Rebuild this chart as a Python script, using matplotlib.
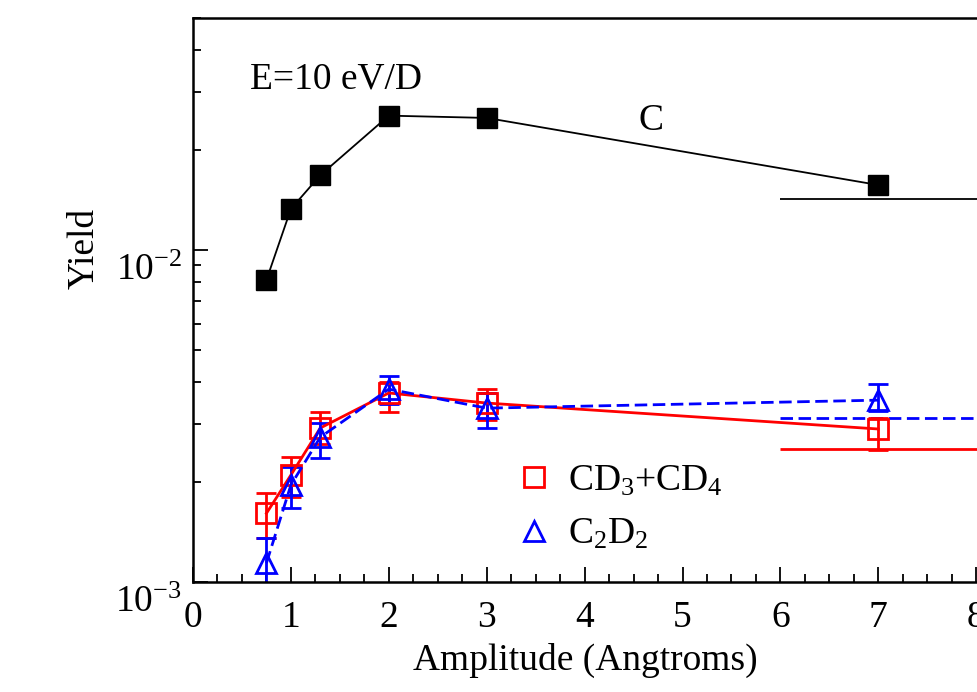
import matplotlib
matplotlib.use("Agg")
import matplotlib.pyplot as plt
import matplotlib.transforms as mtransforms
from matplotlib.lines import Line2D
from matplotlib.ticker import MultipleLocator, LogLocator, NullFormatter, FixedLocator, FixedFormatter

plt.rcParams['font.family'] = ['Liberation Serif', 'DejaVu Serif']
plt.rcParams['mathtext.fontset'] = 'custom'
plt.rcParams['mathtext.rm'] = 'Liberation Serif'
plt.rcParams['mathtext.it'] = 'Liberation Serif:italic'

# amplitude values (Angstroms)
amp = [0.75, 1.0, 1.3, 2.0, 3.0, 7.0]

# C yield (black squares)
c_yield = [8.12e-3, 1.33e-2, 1.68e-2, 2.54e-2, 2.50e-2, 1.57e-2]
c_ref = 1.425e-2

# CD3+CD4 yield (red open squares) with error bar limits
cd_yield = [1.61e-3, 2.10e-3, 2.91e-3, 3.71e-3, 3.46e-3, 2.89e-3]
cd_hi = [1.85e-3, 2.38e-3, 3.25e-3, 4.00e-3, 3.81e-3, 3.12e-3]
cd_lo = [1.36e-3, 1.80e-3, 2.60e-3, 3.25e-3, 3.08e-3, 2.50e-3]
cd_ref = 2.52e-3

# C2D2 yield (blue open triangles) with error bar limits
c2_yield = [1.14e-3, 1.96e-3, 2.73e-3, 3.81e-3, 3.34e-3, 3.53e-3]
c2_hi = [1.36e-3, 2.22e-3, 3.01e-3, 4.17e-3, 3.71e-3, 3.95e-3]
c2_lo = [0.90e-3, 1.67e-3, 2.36e-3, 3.43e-3, 2.91e-3, 3.27e-3]
c2_ref = 3.12e-3

FS = 27
W, H = 977, 692
fig = plt.figure(figsize=(W / 100, H / 100), dpi=100)
xmax = 10.0
px_per_unit = 97.9
ax = fig.add_axes([193 / W, 110 / H, xmax * px_per_unit / W, (582 - 18) / H])
ax.set_xlim(0, xmax)
ax.set_yscale('log')
ax.set_ylim(1e-3, 5e-2)

dash = (0, (4.5, 2))

# reference lines from x=6 outwards
ax.hlines(c_ref, 6, xmax, color='black', lw=1.3)
ax.hlines(cd_ref, 6, xmax, color='red', lw=2)
ax.hlines(c2_ref, 6, xmax, color='blue', lw=2, linestyles=dash)

ax.plot(amp, c_yield, color='black', lw=1.3, marker='s', ms=14, mfc='black', mec='black', clip_on=False)

cd_err = [[y - l for y, l in zip(cd_yield, cd_lo)], [h - y for y, h in zip(cd_yield, cd_hi)]]
ax.errorbar(amp, cd_yield, yerr=cd_err, color='red', lw=2, marker='s', ms=14, mfc='none', mec='red', mew=2,
            elinewidth=2, capsize=7, capthick=2)

c2_err = [[y - l for y, l in zip(c2_yield, c2_lo)], [h - y for y, h in zip(c2_yield, c2_hi)]]
ax.errorbar(amp, c2_yield, yerr=c2_err, color='blue', lw=2, ls=dash, marker='^', ms=15,
            mfc='none', mec='blue', mew=2, elinewidth=2, capsize=7, capthick=2)

# axes look
ax.spines['right'].set_visible(False)
for side in ['left', 'bottom', 'top']:
    ax.spines[side].set_linewidth(1.8)

ax.xaxis.set_major_locator(MultipleLocator(1))
ax.xaxis.set_minor_locator(MultipleLocator(0.25))
ax.yaxis.set_major_locator(FixedLocator([1e-3, 1e-2]))
ax.yaxis.set_major_formatter(FixedFormatter([r'$10^{-3}$', r'$10^{-2}$']))
ax.yaxis.set_minor_locator(LogLocator(base=10, subs=range(2, 10)))
ax.yaxis.set_minor_formatter(NullFormatter())
ax.tick_params(which='both', direction='in', top=False, right=False, labelsize=FS)
ax.tick_params(which='major', length=11, width=1.3)
ax.tick_params(which='minor', length=6, width=1.3)
ax.tick_params(axis='x', which='major', pad=13)
ax.tick_params(axis='y', which='major', pad=8)

offset = mtransforms.ScaledTranslation(0, -17 / 100, fig.dpi_scale_trans)
for lab in ax.get_yticklabels():
    lab.set_transform(lab.get_transform() + offset)

ax.set_xlabel('Amplitude (Angtroms)', fontsize=FS)
ax.xaxis.set_label_coords((585 - 193) / (xmax * px_per_unit), -0.108)
ax.set_ylabel('Yield', fontsize=FS)
ax.yaxis.set_label_coords(-(193 - 102) / (xmax * px_per_unit), (582 - 248) / (582 - 18))

ax.text(0.58, 3.28e-2, 'E=10 eV/D', fontsize=FS, ha='left', va='center')
ax.text(4.68, 2.45e-2, 'C', fontsize=FS, ha='center', va='center')

handles = [Line2D([], [], ls='none', marker='s', ms=14, mfc='none', mec='red', mew=2),
           Line2D([], [], ls='none', marker='^', ms=15, mfc='none', mec='blue', mew=2)]
ax.legend(handles, [r'CD$_3$+CD$_4$', r'C$_2$D$_2$'], loc='upper left',
          bbox_to_anchor=(517 / W, 1 - 464 / H), bbox_transform=fig.transFigure,
          frameon=False, fontsize=FS, handlelength=0.9, handletextpad=0.45,
          labelspacing=0.5, borderpad=0, borderaxespad=0)

fig.savefig('out.png', dpi=100)
